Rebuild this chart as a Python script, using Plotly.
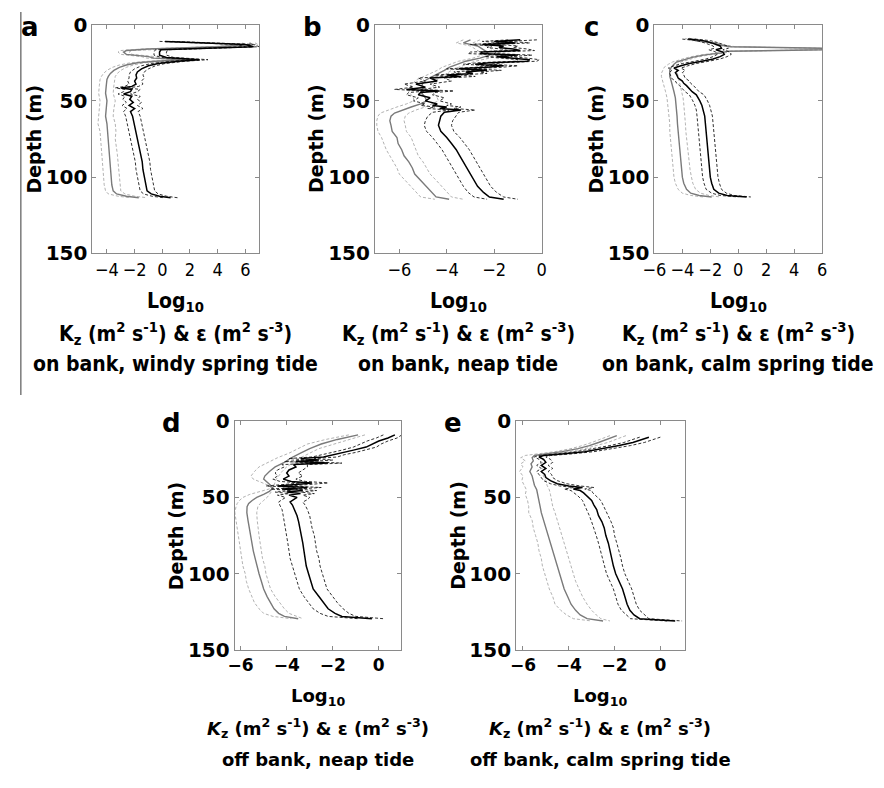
import plotly.graph_objects as go

W, H = 884, 788

# ---------------- panel a : on bank, windy spring tide ----------------
a_depth_k = [11, 12, 13, 14.5, 15.5, 16.5, 18, 20, 21.5, 23, 24, 25.5, 27, 29, 31, 33, 35, 37, 39, 40.5,
             41.5, 42.5, 44, 45.5, 47, 49, 51, 53, 55, 57, 60, 64, 68, 72, 76, 80, 85, 90, 95, 100,
             105, 109, 111, 112.5, 113.5]
a_kz = [0.2, 3.0, 6.0, 6.6, 3.0, -0.1, -0.2, -0.2, 0.3, 2.7, 1.2, -0.3, -1.0, -1.5, -1.8,
        -1.9, -1.85, -2.0, -1.9, -2.2, -3.0, -2.2, -2.3, -2.8, -2.2, -2.35, -2.1, -2.4, -2.0, -2.3,
        -2.15, -2.05, -2.0, -1.9, -1.75, -1.65, -1.55, -1.45, -1.4, -1.3, -1.2, -1.1, -0.8, -0.2, 0.6]
a_kz_lo = [-0.2, 2.5, 5.3, 6.0, 2.5, -0.5, -0.6, -0.6, -0.1, 2.2, 0.7, -0.8, -1.5, -2.0, -2.3,
           -2.4, -2.4, -2.5, -2.4, -2.7, -3.4, -2.7, -2.8, -3.2, -2.7, -2.85, -2.6, -2.9, -2.55, -2.8,
           -2.65, -2.55, -2.5, -2.4, -2.25, -2.15, -2.05, -1.95, -1.9, -1.8, -1.7, -1.6, -1.35, -0.75, 0.1]
a_kz_hi = [0.7, 3.6, 6.6, 7.0, 3.5, 0.4, 0.3, 0.3, 0.8, 3.3, 1.7, 0.2, -0.5, -1.0, -1.3,
           -1.4, -1.3, -1.5, -1.4, -1.7, -2.5, -1.6, -1.8, -2.3, -1.6, -1.8, -1.5, -1.8, -1.4, -1.75,
           -1.6, -1.5, -1.45, -1.35, -1.2, -1.1, -1.0, -0.9, -0.85, -0.75, -0.65, -0.55, -0.3, 0.3, 1.1]
a_depth_e = [12, 13, 14.5, 16, 17, 18, 19.5, 21, 22, 23, 24, 25, 26.5, 28, 30, 32, 34, 36, 40, 45,
             50, 55, 60, 65, 70, 75, 80, 85, 90, 95, 100, 105, 109, 111, 112.5, 113.5]
a_eps = [6.3, 6.5, 4.0, -1.0, -2.6, -2.8, -2.6, -1.0, -0.6, 1.8, -0.5, -1.8, -2.6, -3.1, -3.5,
         -3.75, -3.9, -4.0, -4.05, -4.1, -4.0, -4.05, -4.1, -4.0, -3.95, -3.95, -3.9, -3.85, -3.8, -3.75,
         -3.7, -3.65, -3.55, -3.3, -2.6, -1.7]
a_eps_lo = [5.8, 6.0, 3.5, -1.5, -3.0, -3.2, -3.0, -1.5, -1.1, 1.3, -1.0, -2.3, -3.1, -3.6, -4.0,
            -4.25, -4.4, -4.5, -4.55, -4.6, -4.5, -4.55, -4.6, -4.65, -4.5, -4.45, -4.4, -4.4, -4.3, -4.3,
            -4.25, -4.2, -4.1, -3.9, -3.2, -2.3]
a_eps_hi = [6.7, 6.9, 4.5, -0.5, -2.2, -2.4, -2.2, -0.5, -0.1, 2.3, 0.0, -1.3, -2.1, -2.6, -3.0,
            -3.25, -3.4, -3.45, -3.5, -3.55, -3.4, -3.5, -3.55, -3.4, -3.35, -3.4, -3.3, -3.25, -3.2, -3.15,
            -3.1, -3.05, -3.0, -2.7, -2.0, -1.1]

# ---------------- panel b : on bank, neap tide ----------------
b_depth_k = [10, 11, 12, 13, 14, 15, 16, 17, 18, 19, 20, 21, 22, 23, 24, 25, 26, 27, 28, 29,
             30, 31, 32, 33, 34, 35, 37, 39, 41, 42.5, 43.5, 44.5, 46, 48, 50, 52, 53, 54, 55, 56,
             57.5, 60, 63, 66, 70, 74, 78, 82, 86, 90, 94, 98, 102, 106, 110, 113, 114.5]
b_kz = [-0.9, -2.0, -1.1, -2.5, -1.6, -1.8, -1.2, -0.9, -2.5, -2.6, -1.0, -1.9, -1.2, -0.5, -0.6,
        -2.2, -2.8, -1.6, -2.3, -3.5, -2.3, -3.2, -2.9, -4.0, -3.4, -4.7, -4.4, -5.3, -4.9, -5.7,
        -4.3, -5.1, -5.2, -4.7, -4.9, -4.4, -4.6, -4.0, -4.3, -3.4, -4.1, -4.25, -4.3, -4.35, -4.25,
        -4.0, -3.8, -3.6, -3.45, -3.3, -3.15, -3.0, -2.85, -2.7, -2.45, -2.2, -1.6]
b_kz_lo = [-1.4, -2.5, -1.6, -3.0, -2.1, -2.3, -1.7, -1.4, -3.0, -3.1, -1.5, -2.4, -1.7, -1.0, -1.1,
           -2.7, -3.3, -2.1, -2.8, -4.0, -2.8, -3.7, -3.4, -4.5, -3.9, -5.2, -4.9, -5.8, -5.4, -6.2,
           -4.8, -5.6, -5.7, -5.2, -5.4, -4.9, -5.1, -4.5, -4.8, -3.9, -4.6, -4.8, -4.9, -4.95, -4.85,
           -4.6, -4.4, -4.2, -4.05, -3.9, -3.75, -3.6, -3.45, -3.3, -3.1, -2.85, -2.3]
b_kz_hi = [-0.2, -1.4, -0.5, -1.9, -1.0, -1.2, -0.6, -0.3, -1.9, -2.0, -0.4, -1.3, -0.6, -0.1, -0.2,
           -1.6, -2.2, -1.0, -1.7, -2.9, -1.7, -2.6, -2.3, -3.4, -2.8, -4.1, -3.8, -4.7, -4.3, -5.1,
           -3.7, -4.5, -4.6, -4.1, -4.3, -3.8, -4.0, -3.4, -3.7, -2.8, -3.5, -3.6, -3.75, -3.8, -3.7,
           -3.45, -3.25, -3.05, -2.9, -2.75, -2.6, -2.45, -2.3, -2.15, -1.9, -1.6, -1.0]
b_depth_e = [10, 12, 14, 16, 18, 20, 22, 24, 26, 28, 30, 32, 34, 36, 38, 40, 42, 44, 46, 48,
             50, 52, 54, 56, 58, 60, 63, 66, 70, 74, 78, 82, 86, 90, 94, 98, 102, 106, 110, 113, 114.5]
b_eps = [-3.0, -3.3, -2.7, -2.5, -2.3, -2.2, -2.6, -3.2, -3.6, -3.9, -4.1, -4.35, -4.6, -4.85, -5.0,
         -5.05, -5.0, -5.1, -5.0, -4.9, -4.85, -5.1, -5.5, -5.9, -6.2, -6.35, -6.4, -6.35, -6.3, -6.1,
         -6.05, -5.9, -5.8, -5.6, -5.45, -5.35, -5.1, -4.85, -4.6, -4.45, -3.9]
b_eps_lo = [-3.3, -3.6, -3.0, -2.8, -2.6, -2.5, -2.9, -3.5, -3.9, -4.2, -4.4, -4.7, -4.95, -5.25, -5.4,
            -5.5, -5.5, -5.6, -5.5, -5.4, -5.4, -5.7, -6.1, -6.5, -6.8, -6.9, -6.95, -6.95, -6.9, -6.75,
            -6.65, -6.55, -6.4, -6.25, -6.1, -6.0, -5.75, -5.5, -5.25, -5.1, -4.5]
b_eps_hi = [-2.6, -2.9, -2.3, -2.1, -1.9, -1.9, -2.2, -2.8, -3.2, -3.5, -3.8, -4.0, -4.25, -4.45, -4.6,
            -4.6, -4.5, -4.6, -4.5, -4.4, -4.35, -4.6, -4.9, -5.3, -5.6, -5.75, -5.8, -5.75, -5.7, -5.5,
            -5.4, -5.3, -5.2, -5.0, -4.85, -4.7, -4.45, -4.2, -3.95, -3.8, -3.3]

# ---------------- panel c : on bank, calm spring tide ----------------
c_depth_k = [9.5, 10.5, 12, 14, 15.5, 16.5, 18, 19.5, 21, 22.5, 24, 25.5, 27, 28.5, 30, 31.5, 33, 35, 37, 38.5,
             40, 42, 44, 46, 48, 50, 53, 56, 60, 65, 70, 75, 80, 85, 90, 95, 100, 104, 108, 110.5, 112, 113]
c_kz = [-3.6, -2.5, -1.9, -1.3, -1.2, -1.6, -1.1, -1.0, -1.3, -1.8, -2.6, -3.5, -4.1, -4.6, -4.3,
        -4.5, -4.4, -4.3, -4.0, -3.9, -3.7, -3.5, -3.3, -3.0, -2.85, -2.75, -2.6, -2.5, -2.4, -2.35,
        -2.3, -2.25, -2.2, -2.15, -2.1, -2.05, -2.0, -1.9, -1.75, -1.4, -0.8, 0.6]
c_kz_lo = [-4.0, -3.0, -2.4, -1.8, -1.7, -2.1, -1.6, -1.5, -1.8, -2.3, -3.1, -4.0, -4.6, -5.0, -4.75,
           -4.95, -4.85, -4.8, -4.5, -4.4, -4.2, -4.0, -3.8, -3.5, -3.35, -3.25, -3.1, -3.0, -2.95, -2.9,
           -2.85, -2.8, -2.75, -2.7, -2.65, -2.6, -2.55, -2.45, -2.3, -1.9, -1.3, 0.0]
c_kz_hi = [-3.1, -2.0, -1.4, -0.8, -0.7, -1.1, -0.6, -0.5, -0.8, -1.3, -2.1, -3.0, -3.6, -4.1, -3.8,
           -4.0, -3.9, -3.8, -3.5, -3.4, -3.2, -3.0, -2.8, -2.45, -2.3, -2.2, -2.05, -1.95, -1.85, -1.8,
           -1.75, -1.7, -1.65, -1.6, -1.55, -1.5, -1.45, -1.35, -1.2, -0.85, -0.3, 0.9]
c_depth_e = [9, 10.5, 12, 13.5, 14.5, 15.5, 16.5, 17.5, 18.5, 20, 21.5, 23, 24.5, 26, 28, 30, 32, 34, 37, 40,
             44, 48, 52, 56, 60, 65, 70, 75, 80, 85, 90, 95, 100, 104, 108, 110.5, 112, 113]
c_eps = [-3.5, -3.0, -1.8, -1.2, -0.5, 6.0, 6.0, -0.8, -1.2, -2.5, -3.3, -3.9, -4.4, -4.6, -4.8,
         -4.9, -4.9, -4.9, -4.8, -4.7, -4.6, -4.5, -4.45, -4.4, -4.38, -4.35, -4.3, -4.28, -4.25, -4.2,
         -4.15, -4.1, -4.0, -3.9, -3.7, -3.4, -2.8, -1.9]
c_eps_lo = [-3.8, -3.3, -2.1, -1.5, -0.8, 5.7, 5.7, -1.1, -1.5, -2.8, -3.6, -4.2, -4.7, -5.0, -5.3,
            -5.4, -5.5, -5.5, -5.4, -5.3, -5.2, -5.1, -5.05, -5.0, -4.95, -4.9, -4.9, -4.85, -4.8, -4.75,
            -4.7, -4.65, -4.6, -4.5, -4.3, -4.0, -3.4, -2.5]
c_eps_hi = [-3.2, -2.7, -1.5, -0.9, -0.2, 5.95, 5.95, -0.5, -0.9, -2.2, -3.0, -3.6, -4.1, -4.3, -4.4,
            -4.4, -4.35, -4.3, -4.2, -4.1, -4.0, -3.95, -3.9, -3.85, -3.8, -3.78, -3.75, -3.7, -3.65, -3.6,
            -3.55, -3.45, -3.35, -3.25, -3.05, -2.7, -2.1, -1.3]

# ---------------- panel d : off bank, neap tide ----------------
d_depth_k = [9, 11, 13, 15, 17, 19, 20.5, 22, 23.5, 24.5, 25.5, 26.5, 27.5, 28.5, 30, 32, 34, 36, 38, 39.5,
             40.5, 41.5, 42.5, 43.5, 44.5, 45.5, 46.5, 47.5, 48.5, 50, 51.5, 53, 55, 58, 62, 66, 70, 75, 80, 85,
             90, 95, 100, 105, 110, 115, 119, 123, 126, 128, 129.5]
d_kz = [0.7, 0.4, 0.0, -0.3, -0.55, -1.1, -1.5, -2.0, -2.4, -3.4, -2.6, -3.6, -2.2, -3.7, -3.6,
        -3.9, -4.0, -3.9, -4.15, -3.8, -2.9, -3.6, -4.4, -3.1, -4.2, -3.3, -4.0, -3.4, -3.9, -3.55,
        -3.7, -3.85, -3.75, -3.65, -3.55, -3.48, -3.42, -3.37, -3.3, -3.25, -3.2, -3.15, -3.05, -2.95, -2.85,
        -2.6, -2.4, -2.2, -1.9, -1.6, -0.3]
d_kz_lo = [0.2, -0.1, -0.5, -0.8, -1.1, -1.6, -2.0, -2.5, -2.9, -3.9, -3.1, -4.1, -2.7, -4.2, -4.1,
           -4.4, -4.5, -4.4, -4.6, -4.3, -3.4, -4.1, -4.9, -3.6, -4.7, -3.8, -4.5, -3.9, -4.4, -4.05,
           -4.2, -4.35, -4.3, -4.2, -4.15, -4.1, -4.05, -4.0, -3.95, -3.9, -3.85, -3.75, -3.65, -3.55, -3.45,
           -3.25, -3.05, -2.85, -2.55, -2.2, -0.9]
d_kz_hi = [1.0, 0.8, 0.4, 0.1, -0.1, -0.6, -1.0, -1.5, -1.8, -2.8, -2.0, -3.0, -1.6, -3.1, -3.1,
           -3.3, -3.5, -3.3, -3.6, -3.2, -2.2, -3.0, -3.9, -2.5, -3.6, -2.7, -3.4, -2.8, -3.3, -3.0,
           -3.1, -3.3, -3.2, -3.1, -3.0, -2.95, -2.9, -2.8, -2.75, -2.7, -2.6, -2.55, -2.45, -2.35, -2.25,
           -2.0, -1.8, -1.55, -1.3, -1.0, 0.2]
d_depth_e = [9, 12, 15, 18, 21, 24, 27, 30, 33, 36, 38, 40, 42, 44, 46, 48, 50, 52, 54, 56,
             60, 65, 70, 75, 80, 85, 90, 95, 100, 105, 110, 115, 119, 123, 126, 128, 129.5]
d_eps = [-0.9, -1.8, -2.5, -3.0, -3.4, -3.8, -4.1, -4.5, -4.75, -4.95, -5.0, -4.85, -4.7, -4.6, -4.75,
         -5.0, -5.3, -5.5, -5.65, -5.72, -5.73, -5.68, -5.63, -5.57, -5.5, -5.45, -5.37, -5.3, -5.2, -5.1,
         -5.0, -4.85, -4.7, -4.55, -4.35, -4.1, -3.5]
d_eps_lo = [-1.3, -2.3, -3.1, -3.5, -3.9, -4.4, -4.8, -5.2, -5.4, -5.55, -5.45, -5.1, -4.8, -4.65, -5.1,
            -5.6, -5.9, -6.05, -6.15, -6.2, -6.25, -6.2, -6.15, -6.1, -6.05, -6.0, -5.95, -5.9, -5.8, -5.75,
            -5.65, -5.5, -5.4, -5.2, -5.0, -4.6, -3.8]
d_eps_hi = [-0.6, -1.3, -2.0, -2.6, -3.0, -3.4, -3.7, -4.0, -4.2, -4.35, -4.45, -4.5, -4.55, -4.6, -4.65,
            -4.75, -4.85, -5.0, -5.15, -5.25, -5.3, -5.28, -5.25, -5.2, -5.15, -5.1, -5.05, -4.95, -4.9, -4.8,
            -4.7, -4.5, -4.3, -4.1, -3.9, -3.6, -3.3]

# ---------------- panel e : off bank, calm spring tide ----------------
e_depth_k = [10.5, 12, 14, 16, 18, 20, 21.5, 22.5, 23.5, 25, 27, 29, 31, 33, 35, 37, 39, 41, 42.5, 43.5,
             44.5, 45.5, 47, 49, 52, 55, 58, 62, 66, 70, 75, 80, 85, 90, 95, 100, 105, 110, 115, 120,
             124, 127, 129.5, 131]
e_kz = [-0.5, -0.8, -1.2, -1.8, -2.6, -3.3, -4.3, -5.1, -5.3, -5.1, -5.0, -5.2, -5.0, -5.2, -5.05,
        -5.0, -4.8, -4.5, -4.0, -3.4, -3.8, -3.5, -3.35, -3.2, -3.0, -2.9, -2.78, -2.7, -2.55, -2.45,
        -2.38, -2.27, -2.2, -2.1, -2.05, -1.95, -1.8, -1.65, -1.55, -1.45, -1.33, -1.15, -0.9, 0.65]
e_kz_lo = [-0.9, -1.2, -1.6, -2.2, -3.0, -3.7, -4.6, -5.3, -5.5, -5.3, -5.2, -5.4, -5.2, -5.4, -5.3,
           -5.2, -5.1, -4.8, -4.4, -3.8, -4.2, -3.9, -3.75, -3.6, -3.4, -3.3, -3.2, -3.1, -3.0, -2.9,
           -2.8, -2.7, -2.62, -2.52, -2.45, -2.35, -2.2, -2.05, -1.95, -1.85, -1.7, -1.5, -1.3, 0.3]
e_kz_hi = [0.0, -0.3, -0.7, -1.3, -2.1, -2.9, -3.9, -4.8, -5.0, -4.8, -4.7, -4.9, -4.7, -4.9, -4.75,
           -4.7, -4.5, -4.1, -3.5, -2.9, -3.3, -3.0, -2.95, -2.8, -2.6, -2.5, -2.4, -2.3, -2.15, -2.05,
           -2.0, -1.9, -1.8, -1.72, -1.65, -1.55, -1.4, -1.25, -1.15, -1.05, -0.9, -0.7, -0.5, 0.95]
e_depth_e = [9.5, 12, 14, 16, 18, 20, 21.5, 22.5, 24, 26, 28, 30, 33, 36, 39, 42, 45, 48, 52, 56,
             60, 65, 70, 75, 80, 85, 90, 95, 100, 105, 110, 115, 120, 124, 127, 129.5, 131]
e_eps = [-1.9, -2.3, -2.7, -3.1, -3.6, -4.3, -5.0, -5.5, -5.6, -5.55, -5.65, -5.6, -5.7, -5.6, -5.55,
         -5.5, -5.4, -5.35, -5.3, -5.25, -5.2, -5.1, -5.0, -4.9, -4.8, -4.7, -4.6, -4.5, -4.4, -4.3,
         -4.2, -4.05, -3.9, -3.7, -3.5, -3.2, -2.5]
e_eps_lo = [-2.2, -2.6, -3.0, -3.4, -3.9, -4.6, -5.3, -5.9, -6.1, -5.9, -6.1, -6.0, -6.15, -6.0, -6.05,
            -5.95, -5.85, -5.9, -5.8, -5.75, -5.75, -5.6, -5.55, -5.45, -5.35, -5.3, -5.2, -5.15, -5.05, -4.95,
            -4.85, -4.7, -4.6, -4.35, -4.1, -3.8, -3.0]
e_eps_hi = [-1.5, -1.9, -2.3, -2.8, -3.3, -4.0, -4.7, -5.2, -5.2, -5.1, -5.2, -5.1, -5.2, -5.1, -5.0,
            -4.95, -4.85, -4.8, -4.75, -4.7, -4.6, -4.5, -4.4, -4.3, -4.2, -4.1, -4.0, -3.9, -3.8, -3.7,
            -3.55, -3.4, -3.2, -3.0, -2.8, -2.6, -2.2]

# axis settings per panel
letters = ["a", "b", "c", "d", "e"]
captions = ["on bank, windy spring tide", "on bank, neap tide", "on bank, calm spring tide",
            "off bank, neap tide", "off bank, calm spring tide"]
x_ranges = [[-5.05, 7.0], [-7.03, 0.0], [-6.0, 6.0], [-6.26, 0.98], [-6.3, 1.07]]
x_ticks = [[-4, -2, 0, 2, 4, 6], [-6, -4, -2, 0], [-6, -4, -2, 0, 2, 4, 6], [-6, -4, -2, 0], [-6, -4, -2, 0]]
depth_ticks = [0, 50, 100, 150]

# plot boxes in pixels: left, right, top, bottom
boxes = [(82, 252, 13, 249), (370, 540, 13, 249), (655, 826, 13, 249),
         (227, 397, 422, 658), (514, 686, 422, 658)]

panels = [
    (a_depth_k, a_kz, a_kz_lo, a_kz_hi, a_depth_e, a_eps, a_eps_lo, a_eps_hi),
    (b_depth_k, b_kz, b_kz_lo, b_kz_hi, b_depth_e, b_eps, b_eps_lo, b_eps_hi),
    (c_depth_k, c_kz, c_kz_lo, c_kz_hi, c_depth_e, c_eps, c_eps_lo, c_eps_hi),
    (d_depth_k, d_kz, d_kz_lo, d_kz_hi, d_depth_e, d_eps, d_eps_lo, d_eps_hi),
    (e_depth_k, e_kz, e_kz_lo, e_kz_hi, e_depth_e, e_eps, e_eps_lo, e_eps_hi),
]

BOLD = "DejaVu Sans"
NARROW = "DejaVu Sans Condensed, DejaVu Sans"
FRAME = "#8a8a8a"

fig = go.Figure()
layout = dict(width=W, height=H, margin=dict(l=0, r=0, t=0, b=0),
              paper_bgcolor="white", plot_bgcolor="white", showlegend=False)
annotations = []


def px(x):
    return x / W


def py(y):
    return 1 - y / H


for i, (dk, kz, kz_lo, kz_hi, de, ep, ep_lo, ep_hi) in enumerate(panels):
    n = "" if i == 0 else str(i + 1)
    xa, ya = "x" + n, "y" + n
    top_row = i < 3
    l, r, t, b = boxes[i]

    dash_grey = dict(color="#a9a9a9", width=0.9, dash="3px,2px")
    dash_black = dict(color="#1a1a1a", width=0.9, dash="3px,2px")
    fig.add_trace(go.Scatter(x=ep_lo, y=de, mode="lines", line=dash_grey, xaxis=xa, yaxis=ya))
    fig.add_trace(go.Scatter(x=ep_hi, y=de, mode="lines", line=dash_grey, xaxis=xa, yaxis=ya))
    fig.add_trace(go.Scatter(x=ep, y=de, mode="lines", line=dict(color="#7a7a7a", width=1.4),
                             xaxis=xa, yaxis=ya))
    fig.add_trace(go.Scatter(x=kz_lo, y=dk, mode="lines", line=dash_black, xaxis=xa, yaxis=ya))
    fig.add_trace(go.Scatter(x=kz_hi, y=dk, mode="lines", line=dash_black, xaxis=xa, yaxis=ya))
    fig.add_trace(go.Scatter(x=kz, y=dk, mode="lines", line=dict(color="#000000", width=1.5),
                             xaxis=xa, yaxis=ya))

    common = dict(showline=True, linecolor=FRAME, linewidth=1, mirror="ticks",
                  ticks="inside", ticklen=4, tickcolor=FRAME, showgrid=False, zeroline=False)
    if top_row:
        xfont = dict(family=NARROW, size=18, color="black")
    else:
        xfont = dict(family=BOLD, size=17, color="black", weight="bold")
    layout["xaxis" + n] = dict(domain=[px(l), px(r)], anchor=ya, range=x_ranges[i],
                               tickvals=x_ticks[i], tickfont=xfont, **common)
    layout["yaxis" + n] = dict(domain=[py(b), py(t)], anchor=xa, range=[150, 0],
                               tickvals=depth_ticks,
                               tickfont=dict(family=BOLD, size=20, color="black", weight="bold"),
                               **common)

    cx = (l + r) / 2
    # panel letter
    annotations.append(dict(text="<b>%s</b>" % letters[i], xref="paper", yref="paper",
                            x=px(l - 64), y=py(t + 2), xanchor="center", yanchor="middle",
                            showarrow=False, font=dict(family=BOLD, size=26, color="black")))
    # depth label
    annotations.append(dict(text="<b>Depth (m)</b>", xref="paper", yref="paper",
                            x=px(l - 60), y=py((t + b) / 2), textangle=-90,
                            xanchor="center", yanchor="middle", showarrow=False,
                            font=dict(family=BOLD, size=19, color="black")))
    # x-axis caption block
    if top_row:
        cfont = dict(family=NARROW, size=21, color="black", weight="bold")
        kz_txt = "K<sub>z</sub> (m<sup>2</sup> s<sup>-1</sup>) &amp; ε (m<sup>2</sup> s<sup>-3</sup>)"
        rows = (b + 50, b + 82, b + 114)
    else:
        cfont = dict(family=BOLD, size=18, color="black", weight="bold")
        kz_txt = "<i>K</i><sub>z</sub> (m<sup>2</sup> s<sup>-1</sup>) &amp; ε (m<sup>2</sup> s<sup>-3</sup>)"
        rows = (b + 49, b + 81, b + 113)
    for txt, yy in zip(["Log<sub>10</sub>", kz_txt, captions[i]], rows):
        annotations.append(dict(text=txt, xref="paper", yref="paper", x=px(cx), y=py(yy),
                                xanchor="center", yanchor="middle", showarrow=False, font=cfont))

layout["annotations"] = annotations
layout["shapes"] = [dict(type="line", xref="paper", yref="paper", x0=px(9), x1=px(9),
                         y0=py(395), y1=1, line=dict(color="#7a7a7a", width=1.5))]
fig.update_layout(**layout)
fig.write_html("out.html")
